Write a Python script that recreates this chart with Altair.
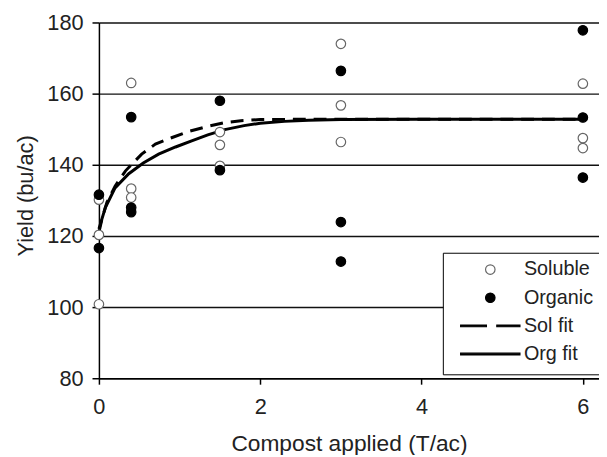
import altair as alt
import pandas as pd

# ---- data ----
sol_x = [0, 0, 0, 0.4, 0.4, 0.4, 1.5, 1.5, 1.5, 3, 3, 3, 6, 6, 6]
sol_y = [130.2, 120.3, 100.8, 163, 133.3, 130.8, 149.2, 145.6, 139.7, 174, 156.7, 146.4, 162.8, 147.5, 144.7]

org_x = [0, 0, 0.4, 0.4, 0.4, 1.5, 1.5, 3, 3, 3, 6, 6, 6]
org_y = [131.6, 116.6, 153.4, 128, 126.7, 158, 138.5, 166.4, 123.9, 112.8, 177.8, 153.3, 136.4]

solfit_x = [0, 0.04, 0.1, 0.2, 0.33, 0.53, 0.7, 0.9, 1.1, 1.35, 1.55, 1.76, 2.0, 2.5, 3, 4, 5, 6]
solfit_y = [121, 125, 129.5, 134, 138.3, 143, 145.8, 147.6, 149.3, 150.8, 151.8, 152.4, 152.7, 152.8, 152.8, 152.8, 152.8, 152.8]

orgfit_x = [0, 0.08, 0.2, 0.37, 0.55, 0.74, 0.95, 1.15, 1.35, 1.56, 1.8, 2.0, 2.3, 2.6, 3.0, 4.0, 5.0, 6.0]
orgfit_y = [122, 128, 133.5, 137.5, 140.5, 143, 145, 146.7, 148.4, 149.9, 151, 151.7, 152.2, 152.5, 152.7, 152.8, 152.8, 152.8]

series_names = ["Soluble", "Organic", "Sol fit", "Org fit"]
x_ticks = [0, 2, 4, 6]
y_ticks = [80, 100, 120, 140, 160, 180]

pts = pd.DataFrame(
    {"x": sol_x + org_x,
     "y": sol_y + org_y,
     "series": ["Soluble"] * len(sol_x) + ["Organic"] * len(org_x)}
)
solfit = pd.DataFrame({"x": solfit_x, "y": solfit_y})
orgfit = pd.DataFrame({"x": orgfit_x, "y": orgfit_y})

FONT = "Liberation Sans"

circle = "M0.16,0A0.16,0.16,0,1,1,-0.16,0A0.16,0.16,0,1,1,0.16,0Z"
dash_sym = ("M-1,-0.03L-0.13,-0.03L-0.13,0.03L-1,0.03Z"
            "M0.22,-0.03L1,-0.03L1,0.03L0.22,0.03Z")
solid_sym = "M-1,-0.03L1,-0.03L1,0.03L-1,0.03Z"

xscale = alt.Scale(domain=[0, 6.2], nice=False, zero=False)
yscale = alt.Scale(domain=[80, 180], nice=False, zero=False)

xaxis = alt.Axis(values=x_ticks, grid=False, title="Compost applied (T/ac)",
                 format="d", labelFlush=False,
                 tickSize=6, labelPadding=13, titlePadding=15)
yaxis = alt.Axis(values=y_ticks, grid=True, title="Yield (bu/ac)", format="d",
                 tickSize=7, labelPadding=9, titlePadding=10, titleY=175)

leg = alt.Legend(
    title=None, orient="none", legendX=348, legendY=233,
    symbolSize=3600, symbolStrokeWidth=1.2, clipHeight=14, rowPadding=8.5,
    symbolOffset=7,
    labelFontSize=20, labelFont=FONT, labelColor="#222", labelOffset=3,
    padding=10, strokeColor="black", fillColor="white",
)

points = alt.Chart(pts).mark_point(size=3600, opacity=1, strokeWidth=1.2).encode(
    x=alt.X("x:Q", scale=xscale, axis=xaxis),
    y=alt.Y("y:Q", scale=yscale, axis=yaxis),
    shape=alt.Shape("series:N", scale=alt.Scale(domain=series_names,
                    range=[circle, circle, dash_sym, solid_sym]), legend=leg),
    fill=alt.Fill("series:N", scale=alt.Scale(domain=series_names,
                  range=["white", "black", "black", "black"]), legend=leg),
    stroke=alt.Stroke("series:N", scale=alt.Scale(domain=series_names,
                      range=["#666666", "black", "black", "black"]), legend=leg),
)

sol_line = alt.Chart(solfit).mark_line(color="black", strokeWidth=3, strokeDash=[13, 8]).encode(
    x=alt.X("x:Q", scale=xscale), y=alt.Y("y:Q", scale=yscale)
)
org_line = alt.Chart(orgfit).mark_line(color="black", strokeWidth=3).encode(
    x=alt.X("x:Q", scale=xscale), y=alt.Y("y:Q", scale=yscale)
)

chart = (
    alt.layer(sol_line, org_line, points)
    .properties(width=506, height=360, autosize="none",
                padding={"left": 92, "top": 12, "right": 0, "bottom": 75},
                background="white")
    .configure_view(stroke=None)
    .configure_axis(
        labelFont=FONT, titleFont=FONT, labelFontSize=22, titleFontSize=22,
        labelColor="#222", titleColor="#222", titleFontWeight="normal",
        domainColor="black", domainWidth=1.5, tickColor="black", tickWidth=1.5,
        gridColor="#111", gridWidth=1.5, gridOpacity=1,
    )
    .configure_axisX(titleFontSize=23)
)

chart.save("out.html", embed_options={"renderer": "svg", "actions": False})
